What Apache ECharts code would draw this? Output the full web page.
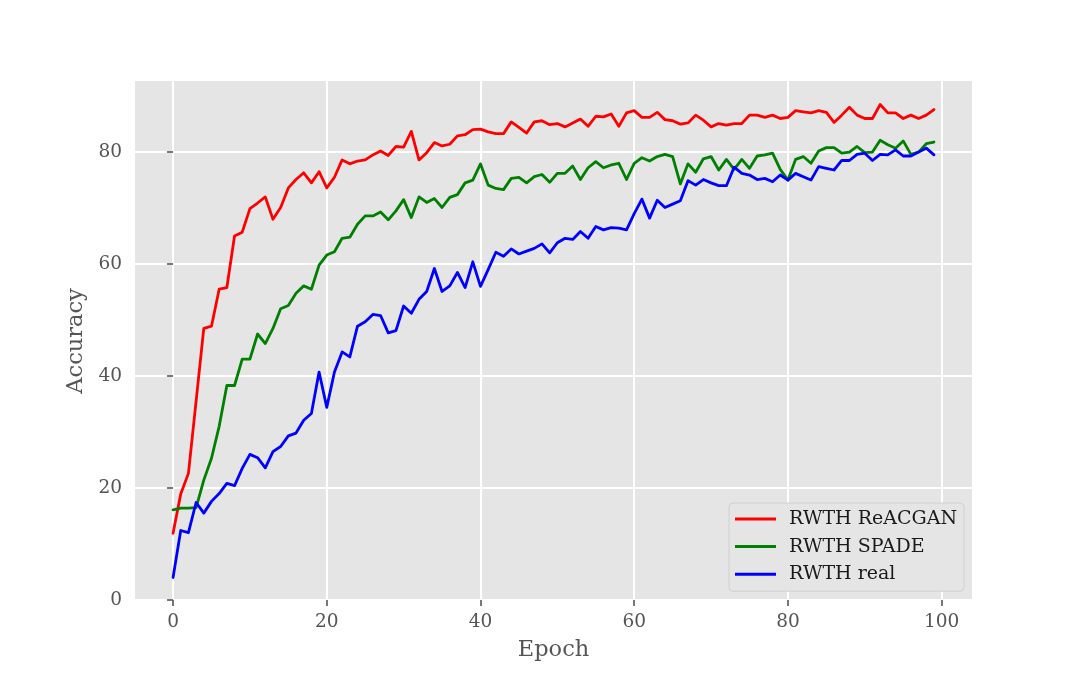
<!DOCTYPE html>
<html>
<head>
<meta charset="utf-8">
<script src="https://cdn.jsdelivr.net/npm/echarts@6/dist/echarts.min.js"></script>
<style>
html,body{margin:0;padding:0;background:#fff;}
#chart{width:1080px;height:675px;}
</style>
</head>
<body>
<div id="chart"></div>
<script>
const seriesNames = ['RWTH ReACGAN', 'RWTH SPADE', 'RWTH real'];
const xTicks = [0, 20, 40, 60, 80, 100];
const yTicks = [0, 20, 40, 60, 80];
const epochs = Array.from({length: 100}, (_, i) => i);

const reacgan = [11.9, 18.9, 22.6, 35.5, 48.5, 48.9, 55.5, 55.8, 65.0, 65.7,
  69.9, 70.9, 72.0, 68.0, 70.1, 73.6, 75.1, 76.3, 74.5, 76.5,
  73.6, 75.5, 78.6, 77.9, 78.4, 78.6, 79.5, 80.2, 79.4, 81.0,
  80.9, 83.7, 78.6, 79.9, 81.7, 81.1, 81.4, 82.9, 83.1, 84.0,
  84.1, 83.6, 83.3, 83.3, 85.4, 84.4, 83.4, 85.4, 85.6, 84.9,
  85.1, 84.5, 85.2, 85.9, 84.6, 86.4, 86.3, 86.8, 84.6, 87.0,
  87.4, 86.2, 86.2, 87.1, 85.8, 85.6, 85.0, 85.2, 86.6, 85.7,
  84.5, 85.1, 84.8, 85.1, 85.1, 86.6, 86.6, 86.2, 86.6, 86.0,
  86.2, 87.4, 87.2, 87.0, 87.4, 87.1, 85.3, 86.6, 88.0, 86.6,
  86.0, 86.0, 88.5, 87.0, 87.0, 86.0, 86.6, 86.0, 86.6, 87.6];

const spade = [16.1, 16.4, 16.4, 16.5, 21.4, 25.3, 31.0, 38.3, 38.3, 43.0,
  43.0, 47.5, 45.8, 48.5, 52.0, 52.6, 54.8, 56.1, 55.5, 59.8,
  61.6, 62.2, 64.6, 64.8, 67.1, 68.6, 68.6, 69.3, 67.9, 69.5,
  71.5, 68.3, 72.0, 71.0, 71.7, 70.1, 71.9, 72.4, 74.5, 75.0,
  77.9, 74.1, 73.5, 73.3, 75.3, 75.5, 74.5, 75.6, 76.0, 74.6,
  76.2, 76.2, 77.5, 75.1, 77.2, 78.3, 77.2, 77.7, 78.0, 75.1,
  78.0, 79.0, 78.4, 79.2, 79.6, 79.2, 74.3, 77.9, 76.4, 78.8,
  79.2, 76.8, 78.7, 76.9, 78.7, 77.1, 79.3, 79.5, 79.8, 76.9,
  75.0, 78.7, 79.2, 78.0, 80.2, 80.8, 80.8, 79.8, 80.0, 81.0,
  79.9, 80.0, 82.1, 81.3, 80.7, 82.0, 79.6, 80.0, 81.5, 81.8];

const real = [4.0, 12.4, 12.0, 17.4, 15.5, 17.6, 19.0, 20.8, 20.4, 23.5,
  26.0, 25.4, 23.6, 26.5, 27.4, 29.3, 29.8, 32.1, 33.3, 40.7,
  34.4, 40.7, 44.3, 43.4, 48.9, 49.7, 51.0, 50.8, 47.7, 48.1,
  52.5, 51.2, 53.7, 55.1, 59.2, 55.1, 56.1, 58.5, 55.8, 60.4,
  56.0, 59.0, 62.1, 61.4, 62.7, 61.8, 62.3, 62.8, 63.6, 62.0,
  63.8, 64.6, 64.4, 65.8, 64.6, 66.7, 66.1, 66.5, 66.4, 66.1,
  69.0, 71.6, 68.2, 71.4, 70.1, 70.7, 71.3, 74.9, 74.1, 75.1,
  74.5, 74.0, 74.0, 77.3, 76.2, 75.9, 75.1, 75.3, 74.7, 75.9,
  75.0, 76.2, 75.6, 75.0, 77.4, 77.1, 76.8, 78.5, 78.5, 79.6,
  79.8, 78.5, 79.6, 79.5, 80.4, 79.3, 79.3, 80.0, 80.7, 79.5];

const colors = ['#ff0000', '#008000', '#0000ff'];
const FONT = 'DejaVu Serif';

const chart = echarts.init(document.getElementById('chart'), null, {renderer: 'canvas'});

function mkSeries(name, vals, color) {
  return {
    name: name,
    type: 'line',
    data: epochs.map((e, i) => [e, vals[i]]),
    symbol: 'none',
    showSymbol: false,
    lineStyle: {color: color, width: 2.8, join: 'round', cap: 'round'},
    itemStyle: {color: color},
    animation: false,
    z: 3
  };
}

const option = {
  backgroundColor: '#ffffff',
  animation: false,
  grid: {
    left: 135, top: 81, width: 837, height: 520,
    show: true, backgroundColor: '#e5e5e5', borderWidth: 0
  },
  xAxis: {
    type: 'value',
    min: -4.95, max: 103.95,
    name: 'Epoch',
    nameLocation: 'middle',
    nameGap: 38,
    nameTextStyle: {fontFamily: FONT, fontSize: 22.5, color: '#555555'},
    axisLine: {show: false},
    axisTick: {show: true, length: 6, lineStyle: {color: '#555555', width: 1.6}, customValues: xTicks},
    axisLabel: {fontFamily: FONT, fontSize: 18.5, color: '#555555', margin: 12, customValues: xTicks},
    splitLine: {show: true, lineStyle: {color: '#ffffff', width: 2}}
  },
  yAxis: {
    type: 'value',
    min: -0.2, max: 92.7,
    name: 'Accuracy',
    nameLocation: 'middle',
    nameGap: 46,
    nameTextStyle: {fontFamily: FONT, fontSize: 22.5, color: '#555555'},
    axisLine: {show: false},
    axisTick: {show: true, length: 6, lineStyle: {color: '#555555', width: 1.6}, customValues: yTicks},
    axisLabel: {fontFamily: FONT, fontSize: 18.5, color: '#555555', margin: 13, customValues: yTicks},
    splitLine: {show: true, lineStyle: {color: '#ffffff', width: 2}}
  },
  legend: {
    orient: 'vertical',
    left: 729, top: 503,
    data: seriesNames,
    icon: 'rect',
    itemWidth: 41, itemHeight: 3,
    itemGap: 7.6,
    padding: [6, 7, 7, 6],
    backgroundColor: '#e5e5e5',
    borderColor: '#d0d0d0',
    borderWidth: 1,
    borderRadius: 4,
    textStyle: {fontFamily: FONT, fontSize: 19, color: '#1a1a1a', lineHeight: 20, padding: [0, 0, 0, 8]}
  },
  series: [
    mkSeries(seriesNames[0], reacgan, colors[0]),
    mkSeries(seriesNames[1], spade, colors[1]),
    mkSeries(seriesNames[2], real, colors[2])
  ]
};
chart.setOption(option);
</script>
</body>
</html>
